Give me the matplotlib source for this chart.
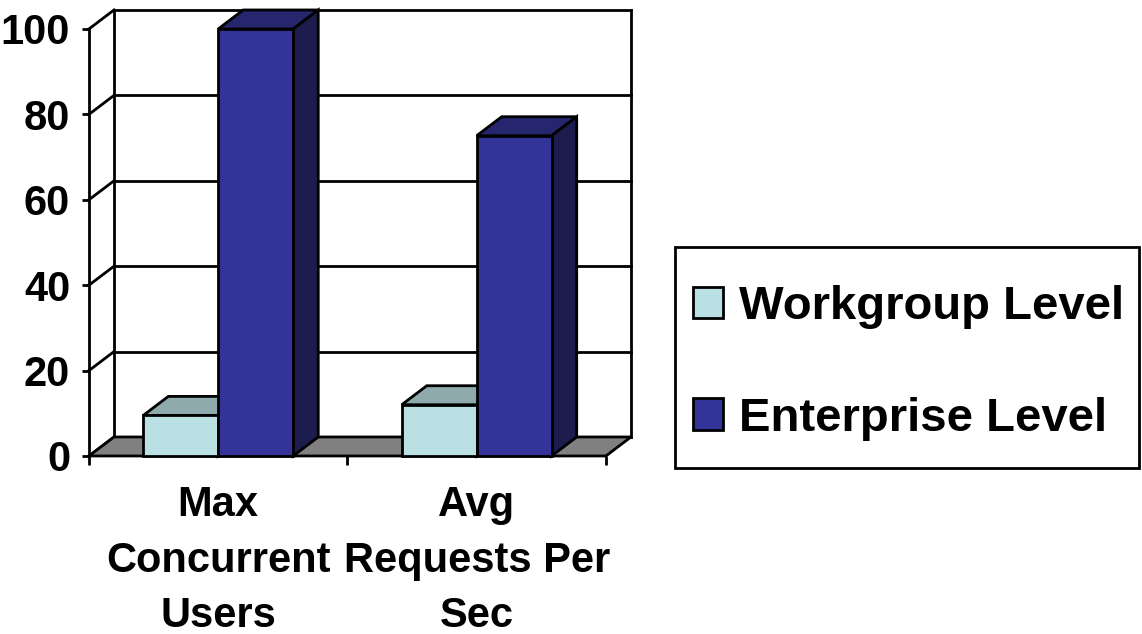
import numpy as np
from matplotlib import pyplot as plt
from matplotlib.patches import Patch, Rectangle

plt.rcParams['font.family'] = ['Liberation Sans', 'DejaVu Sans']
plt.rcParams['font.weight'] = 'bold'

categories = ['Max\nConcurrent\nUsers', 'Avg\nRequests Per\nSec']
series_names = ['Workgroup Level', 'Enterprise Level']
workgroup = [9.5, 12]
enterprise = [100, 75]
y_ticks = [0, 20, 40, 60, 80, 100]

# face colours: front, top, side
front_colors = ['#BBE0E3', '#333399']
top_colors = ['#8EAAAD', '#26266F']
side_colors = ['#5E7477', '#1C1C4D']

# fake 3D depth (x in category units, y in value units)
dx = 0.097
dy = 4.45
bar_w = 0.29
lw = 2.0

W, H = 1142, 634
fig = plt.figure(figsize=(W / 100, H / 100), dpi=100)
ax = fig.add_axes([0.0779, 0.2808, 0.4753, 0.7072])
ax.set_xlim(0, 2.1)
ax.set_ylim(0, 105)
for s in ax.spines.values():
	s.set_visible(False)

n_cat = len(categories)
y_max = max(y_ticks)

# back wall gridlines and side wall diagonals
for y in y_ticks:
	ax.plot([dx, n_cat + dx], [y + dy, y + dy], color='black', lw=lw, clip_on=False, zorder=1)
	ax.plot([0, dx], [y, y + dy], color='black', lw=lw, clip_on=False, zorder=1)
ax.plot([0, 0], [0, y_max], color='black', lw=lw, clip_on=False, zorder=1)
ax.plot([dx, dx], [dy, y_max + dy], color='black', lw=lw, clip_on=False, zorder=1)
ax.plot([n_cat + dx, n_cat + dx], [dy, y_max + dy], color='black', lw=lw, clip_on=False, zorder=1)

# floor
ax.fill([0, n_cat, n_cat + dx, dx], [0, 0, dy, dy], facecolor='#808080',
		edgecolor='black', lw=lw, clip_on=False, zorder=2)

# bars
index = np.arange(n_cat) + 0.5
for k, vals in enumerate([workgroup, enterprise]):
	x0s = index - bar_w + k * bar_w
	for x0, v in zip(x0s, vals):
		x1 = x0 + bar_w
		ax.fill([x0, x1, x1 + dx, x0 + dx], [v, v, v + dy, v + dy], facecolor=top_colors[k],
				edgecolor='black', lw=lw, clip_on=False, zorder=3 + k)
		ax.fill([x1, x1 + dx, x1 + dx, x1], [0, dy, v + dy, v], facecolor=side_colors[k],
				edgecolor='black', lw=lw, clip_on=False, zorder=3 + k)
	ax.bar(x0s, vals, bar_w, align='edge', color=front_colors[k], edgecolor='black',
		   lw=lw, clip_on=False, zorder=3 + k)

# axes ticks and labels
ax.set_yticks(y_ticks)
ax.set_yticklabels([str(t) for t in y_ticks], fontsize=30, fontweight='bold')
ax.tick_params(axis='y', length=5, width=lw, pad=8.5, direction='out')
ax.set_xticks(np.arange(n_cat + 1))
ax.set_xticklabels([])
ax.tick_params(axis='x', which='major', length=6.5, width=lw, direction='out')
ax.set_xticks(index, minor=True)
ax.set_xticklabels(categories, minor=True, fontsize=30, fontweight='bold', linespacing=1.5)
ax.tick_params(axis='x', which='minor', length=0, pad=21)

# legend: box drawn separately so padding can match
handles = [Patch(facecolor=front_colors[i], edgecolor='black', lw=lw) for i in range(2)]
leg = fig.legend(handles, series_names, loc='upper left', bbox_to_anchor=(693 / W, 1 - 285 / H),
				 fontsize=34, frameon=False, handlelength=0.64, handleheight=0.64,
				 handletextpad=0.34, labelspacing=1.43, borderpad=0, borderaxespad=0)
fig.add_artist(Rectangle((675 / W, 1 - 468 / H), (1139 - 675) / W, (468 - 247) / H,
						 transform=fig.transFigure, fill=False, edgecolor='black', lw=lw))

plt.savefig('out.png', dpi=100)
